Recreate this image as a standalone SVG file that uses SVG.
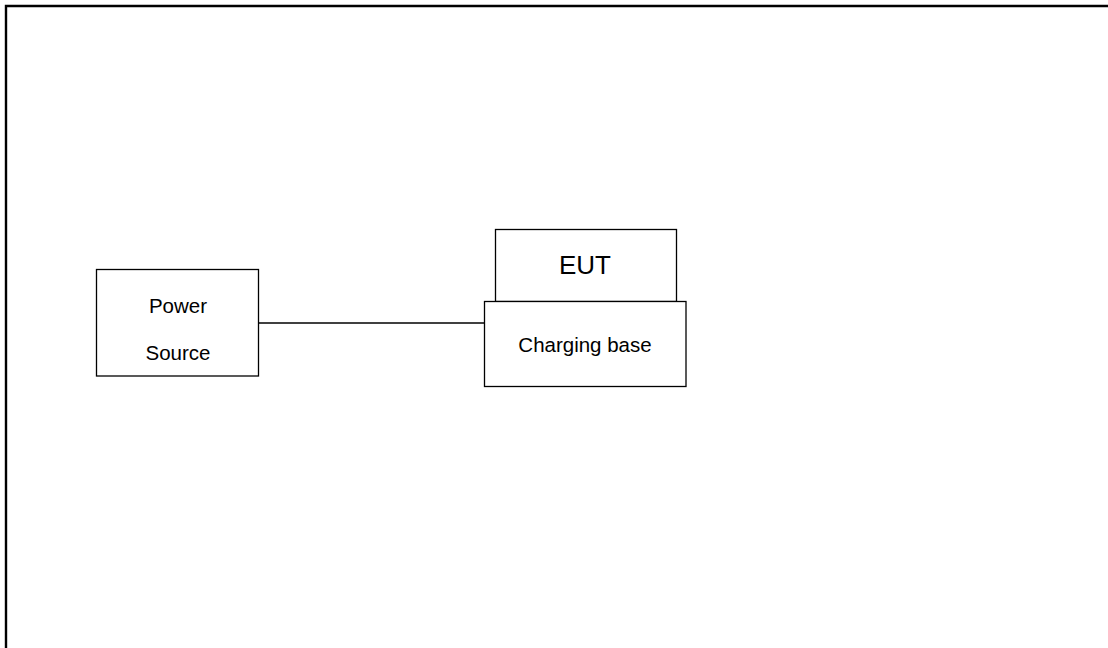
<svg xmlns="http://www.w3.org/2000/svg" width="1108" height="648" viewBox="0 0 1108 648">
<style>
.box{fill:#fff;stroke:#000;stroke-width:1.3}
.t{font-family:"Liberation Sans",Arial,sans-serif;fill:#000;text-anchor:middle}
</style>
<rect x="0" y="0" width="1108" height="648" fill="#fff"/>
<path d="M6 648 V6 H1108" fill="none" stroke="#000" stroke-width="2.4"/>
<g id="connectors">
<line x1="259" y1="323" x2="484" y2="323" stroke="#000" stroke-width="1.5"/>
</g>
<g id="power-source">
<rect class="box" x="96.5" y="269.5" width="162" height="106.5"/>
<text class="t" x="178" y="312.5" font-size="20.5">Power</text>
<text class="t" x="178" y="360" font-size="20.5">Source</text>
</g>
<g id="eut">
<rect class="box" x="495.5" y="229.5" width="181" height="72"/>
<text class="t" x="585" y="273.5" font-size="26">EUT</text>
</g>
<g id="charging-base">
<rect class="box" x="484.5" y="301.5" width="201.5" height="85"/>
<text class="t" x="585" y="351.5" font-size="20.5">Charging base</text>
</g>
</svg>
